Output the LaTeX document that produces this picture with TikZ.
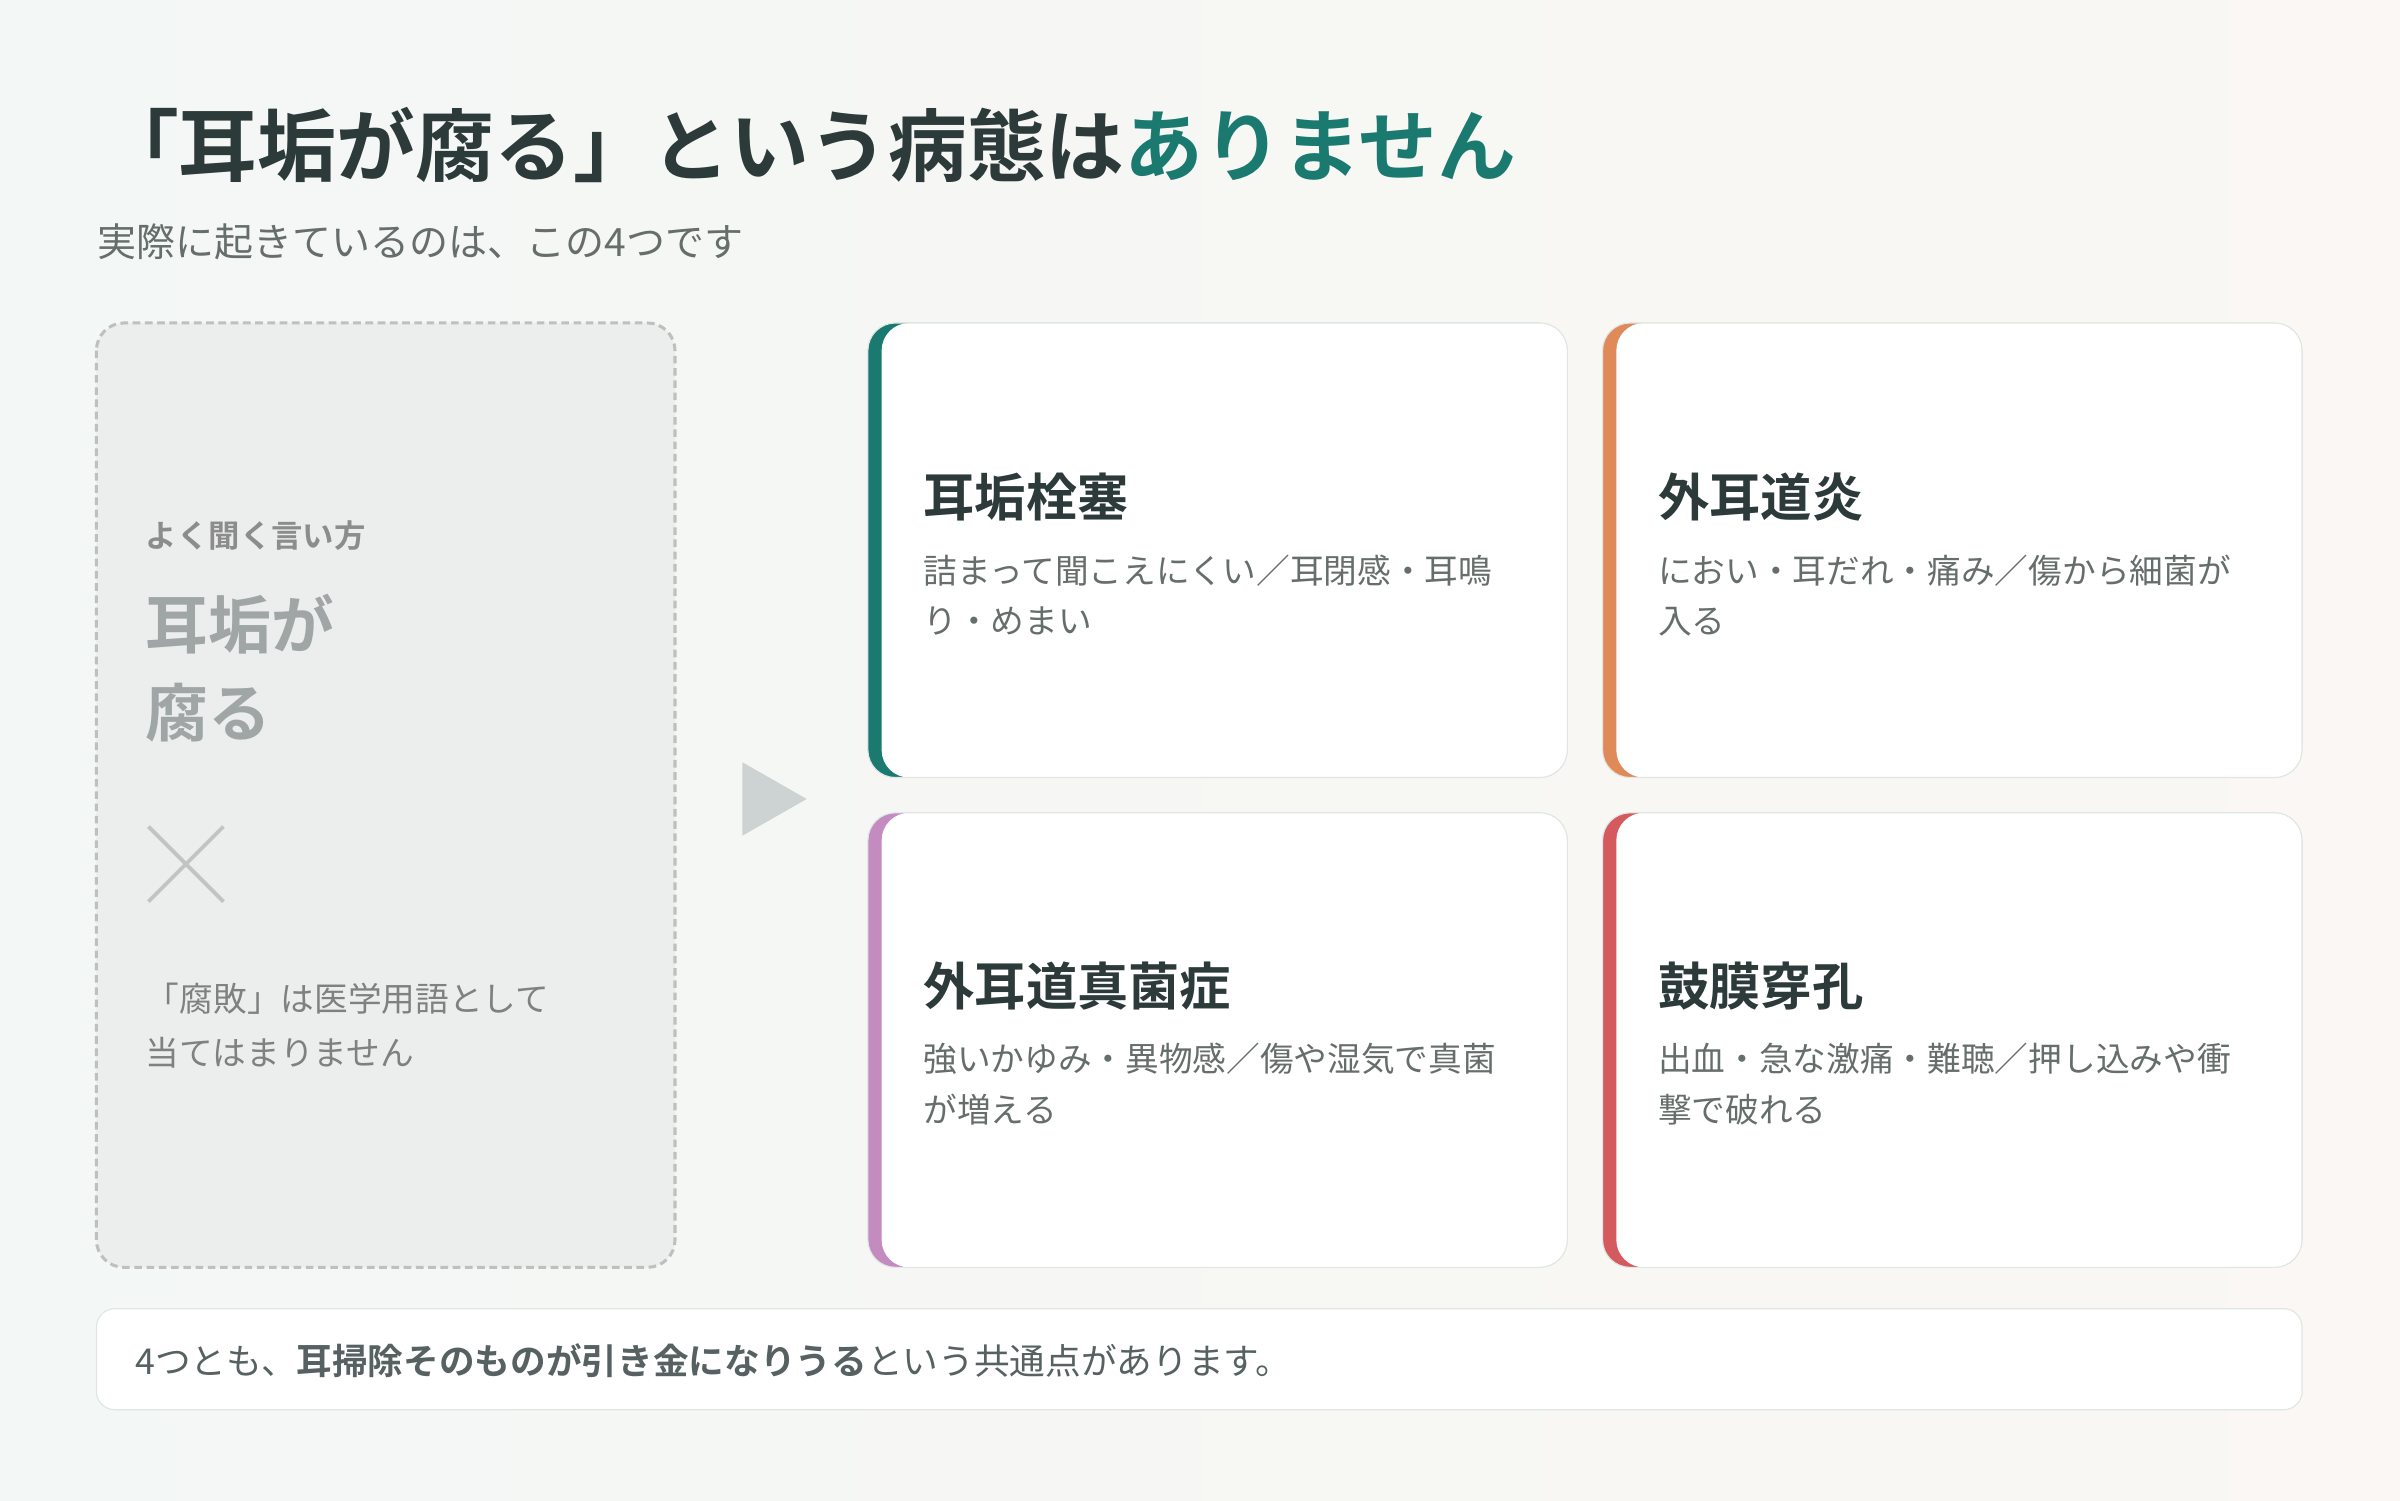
\documentclass[tikz,border=0pt]{standalone}
\usepackage{fontspec}
\setmainfont{Noto Sans CJK JP}[BoldFont={Noto Sans CJK JP Bold}]
\definecolor{ink}{HTML}{2D3A3A}
\definecolor{teal}{HTML}{1A7A70}
\definecolor{cOrange}{HTML}{E08A5A}
\definecolor{cPurple}{HTML}{C48BC0}
\definecolor{cRed}{HTML}{D45A5E}
\definecolor{mute}{HTML}{666E6C}
\definecolor{line}{HTML}{E0E6E4}
\definecolor{bgA}{HTML}{F3F7F5}
\definecolor{bgB}{HTML}{FAF7F4}
\tikzset{every picture/.style={line width=0.75pt},
  txt/.style={anchor=west,inner sep=0pt,text=mute,font=\fontsize{22}{26}\selectfont},
  cardtitle/.style={anchor=west,inner sep=0pt,text=ink,font=\bfseries\fontsize{33.5}{38}\selectfont}}
\newcommand{\cardbox}[5]{% x1,y1,x2,y2,color
  \fill[#5,rounded corners=18] (#1,#2) rectangle (#3,#4);
  \fill[white,rounded corners=18] (#1+9,#2) rectangle (#3,#4);
  \draw[line,rounded corners=18] (#1,#2) rectangle (#3,#4);}
\begin{document}
\begin{tikzpicture}[x=1pt,y=-1pt]
\useasboundingbox (0,0) rectangle (1568,980);
\shade[left color=bgA,right color=bgB] (0,0) rectangle (1568,980);

% title
\node[anchor=west,inner sep=0pt,text=ink,font=\bfseries\fontsize{51.5}{58}\selectfont] (title) at (65,95) {「耳垢が腐る」という病態は\textcolor{teal}{ありません}};
\node[anchor=west,inner sep=0pt,text=mute,font=\fontsize{25.5}{30}\selectfont] (sub) at (63,158) {実際に起きているのは、この4つです};

% left box
\draw[dash pattern=on 5pt off 3pt,draw=black!25,line width=2pt,fill=ink!9,rounded corners=18] (63,211) rectangle (441,828);
\node[anchor=west,inner sep=0pt,text=black!45,font=\bfseries\fontsize{20.5}{24}\selectfont] (say) at (95,350) {よく聞く言い方};
\node[anchor=north west,inner sep=0pt,align=left,text=ink!45,font=\bfseries\fontsize{41}{57}\selectfont] (myth) at (95,388) {耳垢が\\腐る};
\draw[ink!30,line width=2.5pt] (97,540) -- (146,589) (146,540) -- (97,589);
\node[anchor=north west,inner sep=0pt,align=left,text=black!50,font=\fontsize{22}{35}\selectfont] (note) at (95,642) {「腐敗」は医学用語として\\当てはまりません};

% arrow
\fill[teal!25!black!20] (485,498) -- (527,522) -- (485,546) -- cycle;

% cards
\cardbox{567}{211}{1024}{508}{teal}
\cardbox{1047}{211}{1504}{508}{cOrange}
\cardbox{567}{531}{1024}{828}{cPurple}
\cardbox{1047}{531}{1504}{828}{cRed}

\node[cardtitle] (t1) at (603,325) {耳垢栓塞};
\node[txt] (d1a) at (603,373) {詰まって聞こえにくい／耳閉感・耳鳴};
\node[txt] (d1b) at (603,406) {り・めまい};
\node[cardtitle] (t2) at (1083,325) {外耳道炎};
\node[txt] (d2a) at (1083,373) {におい・耳だれ・痛み／傷から細菌が};
\node[txt] (d2b) at (1083,406) {入る};
\node[cardtitle] (t3) at (603,644) {外耳道真菌症};
\node[txt] (d3a) at (603,692) {強いかゆみ・異物感／傷や湿気で真菌};
\node[txt] (d3b) at (603,725) {が増える};
\node[cardtitle] (t4) at (1083,644) {鼓膜穿孔};
\node[txt] (d4a) at (1083,692) {出血・急な激痛・難聴／押し込みや衝};
\node[txt] (d4b) at (1083,725) {撃で破れる};

% bottom
\draw[line,fill=white,rounded corners=12] (63,855) rectangle (1504,921);
\node[anchor=west,inner sep=0pt,text=ink!80,font=\fontsize{23.3}{27}\selectfont] (foot) at (88,889) {4つとも、\textbf{耳掃除そのものが引き金になりうる}という共通点があります。};
\end{tikzpicture}
\end{document}
